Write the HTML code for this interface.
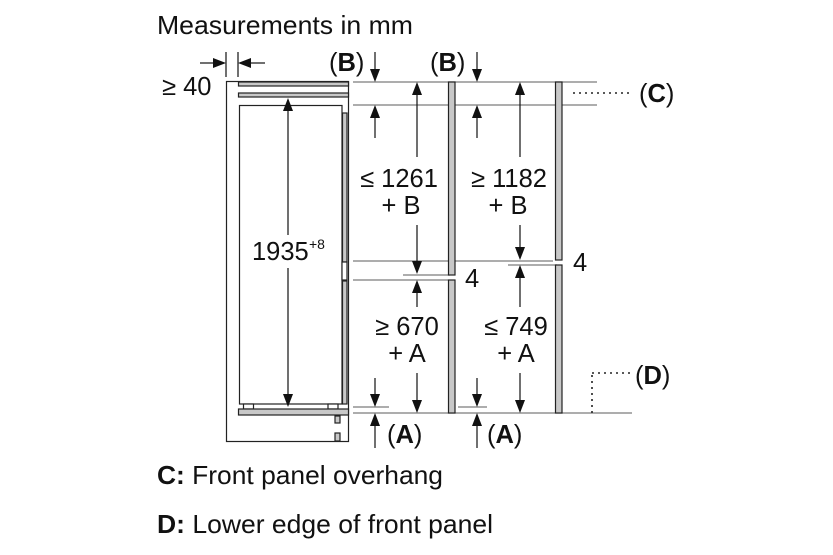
<!DOCTYPE html>
<html>
<head>
<meta charset="utf-8">
<style>
  html,body{margin:0;padding:0;background:#fff;}
  svg{display:block;}
  text{font-family:"Liberation Sans","DejaVu Sans",sans-serif;fill:#111;}
</style>
</head>
<body>
<svg width="833" height="555" viewBox="0 0 833 555" xmlns="http://www.w3.org/2000/svg">
  <!-- Title -->
  <text x="157" y="34" font-size="26" textLength="256" lengthAdjust="spacingAndGlyphs">Measurements in mm</text>

  <!-- Grey reference lines -->
  <g stroke="#7c7c7c" stroke-width="1.3" fill="none">
    <line x1="353" y1="82" x2="597" y2="82"/>
    <line x1="353" y1="105" x2="597" y2="105"/>
    <line x1="353" y1="261" x2="553" y2="261"/>
    <line x1="403" y1="275" x2="450" y2="275"/>
    <line x1="353" y1="280" x2="448" y2="280"/>
    <line x1="508" y1="265" x2="557" y2="265"/>
    <line x1="353" y1="407" x2="389" y2="407"/>
    <line x1="458" y1="407" x2="487" y2="407"/>
    <line x1="353" y1="413" x2="632" y2="413"/>
  </g>

  <!-- Cabinet / appliance -->
  <g stroke="#222" stroke-width="1.2">
    <rect x="226.5" y="81.5" width="122" height="360" fill="#fff"/>
    <rect x="238.5" y="82" width="110" height="4" fill="#c8c8c8"/>
    <rect x="238.5" y="93" width="110" height="4" fill="#c8c8c8"/>
    <rect x="239.5" y="105.5" width="102.5" height="298.5" fill="#fff"/>
    <rect x="342.5" y="113" width="4.5" height="149" fill="#c8c8c8"/>
    <rect x="342" y="262" width="5" height="18" fill="#fff"/>
    <rect x="342.5" y="281" width="4.5" height="123" fill="#c8c8c8"/>
    <rect x="243.5" y="404" width="10" height="5" fill="#fff"/>
    <rect x="328" y="404" width="10" height="5" fill="#fff"/>
    <rect x="238.5" y="409" width="110" height="6" fill="#c8c8c8"/>
    <rect x="335" y="416" width="5" height="7" fill="#c8c8c8"/>
    <rect x="335" y="433" width="5" height="8" fill="#c8c8c8"/>
  </g>

  <!-- Front panels -->
  <g stroke="#222" stroke-width="1.2" fill="#c8c8c8">
    <rect x="448.5" y="82" width="6.5" height="193"/>
    <rect x="448.5" y="280" width="6.5" height="133"/>
    <rect x="555.5" y="82" width="6.5" height="178"/>
    <rect x="555.5" y="265" width="6.5" height="148"/>
  </g>

  <!-- Width dimension (>= 40) -->
  <g stroke="#111" stroke-width="1.2">
    <line x1="226" y1="52" x2="226" y2="77"/>
    <line x1="238" y1="52" x2="238" y2="77"/>
    <line x1="200" y1="63" x2="214" y2="63"/>
    <line x1="250" y1="63" x2="265" y2="63"/>
  </g>
  <g fill="#111">
    <polygon points="213,58 213,68 226,63"/>
    <polygon points="251,58 251,68 238,63"/>
  </g>

  <!-- Vertical arrows -->
  <g stroke="#111" stroke-width="1.2">
    <line x1="375" y1="52" x2="375" y2="70"/>
    <line x1="477" y1="52" x2="477" y2="70"/>
    <line x1="417" y1="225" x2="417" y2="262"/>
    <line x1="520" y1="225" x2="520" y2="248"/>
    <line x1="417" y1="373" x2="417" y2="401"/>
    <line x1="520" y1="373" x2="520" y2="401"/>
    <line x1="375" y1="378" x2="375" y2="395"/>
    <line x1="477" y1="378" x2="477" y2="395"/>
    <line x1="288" y1="268" x2="288" y2="395"/>
    <line x1="375" y1="117" x2="375" y2="138"/>
    <line x1="477" y1="117" x2="477" y2="138"/>
    <line x1="417" y1="94" x2="417" y2="157"/>
    <line x1="520" y1="94" x2="520" y2="157"/>
    <line x1="417" y1="292" x2="417" y2="307"/>
    <line x1="520" y1="277" x2="520" y2="307"/>
    <line x1="375" y1="425" x2="375" y2="448"/>
    <line x1="477" y1="425" x2="477" y2="448"/>
    <line x1="288" y1="110" x2="288" y2="235"/>
  </g>
  <g fill="#111">
    <polygon points="370,69 380,69 375,82"/>
    <polygon points="472,69 482,69 477,82"/>
    <polygon points="412,261 422,261 417,274"/>
    <polygon points="515,247 525,247 520,260"/>
    <polygon points="412,400 422,400 417,413"/>
    <polygon points="515,400 525,400 520,413"/>
    <polygon points="370,394 380,394 375,407"/>
    <polygon points="472,394 482,394 477,407"/>
    <polygon points="283,394 293,394 288,407"/>
    <polygon points="370,118 380,118 375,105"/>
    <polygon points="472,118 482,118 477,105"/>
    <polygon points="412,95 422,95 417,82"/>
    <polygon points="515,95 525,95 520,82"/>
    <polygon points="412,293 422,293 417,280"/>
    <polygon points="515,278 525,278 520,265"/>
    <polygon points="370,426 380,426 375,413"/>
    <polygon points="472,426 482,426 477,413"/>
    <polygon points="283,111 293,111 288,98"/>
  </g>

  <!-- Dotted leaders -->
  <g stroke="#222" stroke-width="1.6" stroke-dasharray="2 4" fill="none">
    <line x1="573" y1="93" x2="630" y2="93"/>
    <line x1="592" y1="373" x2="632" y2="373"/>
    <line x1="592" y1="375" x2="592" y2="413"/>
  </g>

  <!-- Labels -->
  <text x="162" y="95" font-size="25.5">≥ 40</text>
  <text x="329" y="71" font-size="25.5">(<tspan font-weight="bold">B</tspan>)</text>
  <text x="430" y="71" font-size="25.5">(<tspan font-weight="bold">B</tspan>)</text>

  <text x="252" y="260" font-size="25.5">1935</text>
  <text x="309" y="249" font-size="14">+8</text>

  <g font-size="25.5" text-anchor="middle">
    <text x="399" y="187">≤ 1261</text>
    <text x="401" y="214">+ B</text>
    <text x="509" y="187">≥ 1182</text>
    <text x="508" y="214">+ B</text>
    <text x="407" y="335">≥ 670</text>
    <text x="407" y="362">+ A</text>
    <text x="516" y="335">≤ 749</text>
    <text x="516" y="362">+ A</text>
  </g>
  <text x="465" y="287" font-size="25.5">4</text>
  <text x="573" y="271" font-size="25.5">4</text>

  <text x="387" y="443" font-size="25.5">(<tspan font-weight="bold">A</tspan>)</text>
  <text x="487" y="443" font-size="25.5">(<tspan font-weight="bold">A</tspan>)</text>
  <text x="639" y="102" font-size="25.5">(<tspan font-weight="bold">C</tspan>)</text>
  <text x="635" y="384" font-size="25.5">(<tspan font-weight="bold">D</tspan>)</text>

  <!-- Footnotes -->
  <text x="157" y="484" font-size="26" textLength="286" lengthAdjust="spacingAndGlyphs"><tspan font-weight="bold">C:</tspan> Front panel overhang</text>
  <text x="157" y="533" font-size="26" textLength="336" lengthAdjust="spacingAndGlyphs"><tspan font-weight="bold">D:</tspan> Lower edge of front panel</text>
</svg>
</body>
</html>
